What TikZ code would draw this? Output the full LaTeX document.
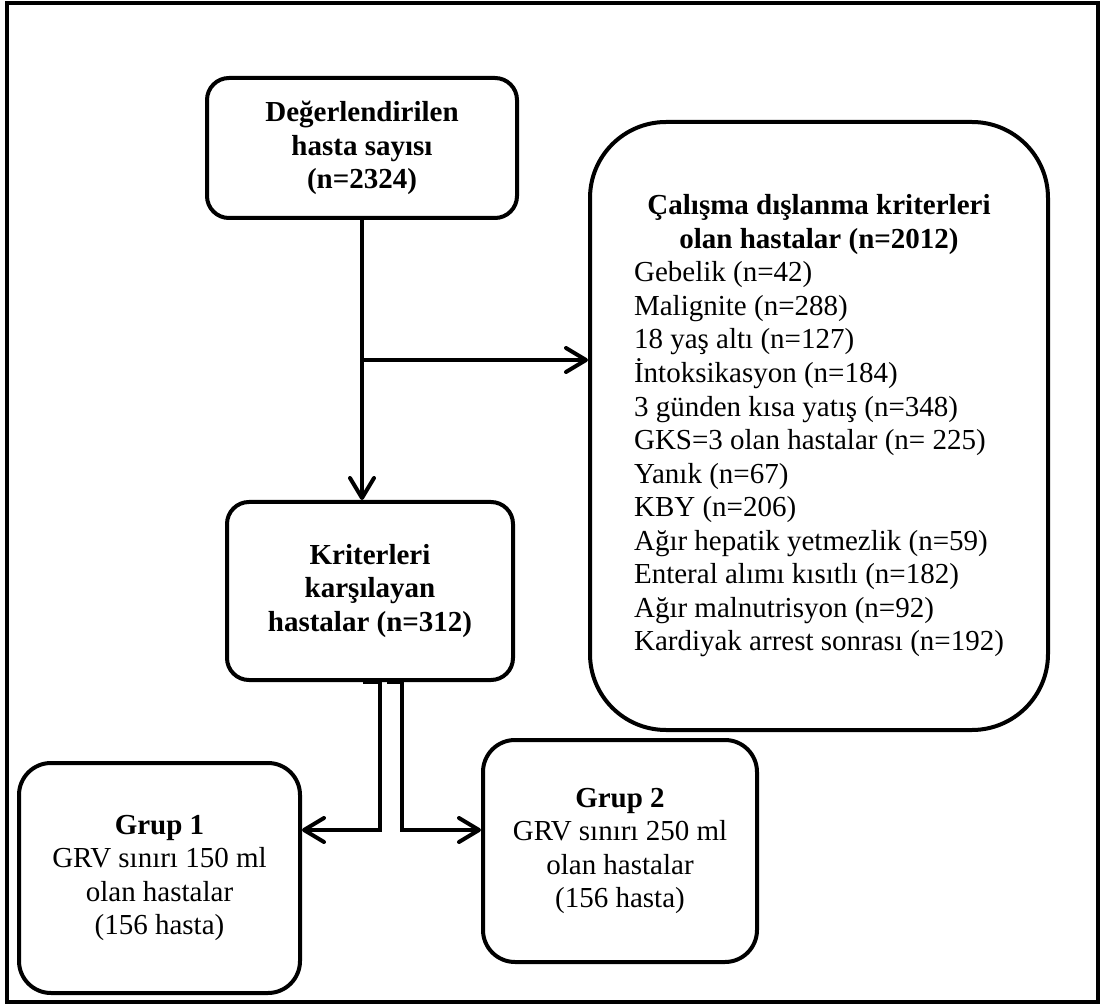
\documentclass[tikz,border=0pt]{standalone}
\usepackage{fontspec}
\setmainfont{Liberation Serif}
\usepackage{tikz}
\usetikzlibrary{arrows.meta,positioning}
\tikzset{
  box/.style={draw=black,line width=2pt,rounded corners=11pt,fill=white,align=center,
              inner sep=0pt,font=\fontsize{14.5}{16.75}\selectfont},
  bigbox/.style={box,rounded corners=38pt},
  groupbox/.style={box,rounded corners=16pt},
  flow/.style={-{Straight Barb[length=10pt,width=12pt,round]},line width=2pt,draw=black},
  frame/.style={draw=black,line width=2.2pt}
}

\begin{document}
\begin{tikzpicture}[x=0.5pt,y=-0.5pt]
  \useasboundingbox (0,0) rectangle (1109,1005);
  \draw[frame] (7,3) rectangle (1098,1002);

  \node[box,minimum width=155pt,minimum height=70pt] (assessed) at (362,148)
    {\textbf{Değerlendirilen}\\\textbf{hasta sayısı}\\\textbf{(n=2324)}};
  \node[box,minimum width=143pt,minimum height=89pt,below=140pt of assessed,xshift=4pt] (eligible)
    {\textbf{Kriterleri}\\\textbf{karşılayan}\\\textbf{hastalar (n=312)}};
  \node[bigbox,minimum width=229pt,minimum height=304pt] (excluded) at (819,426)
    {\begin{tabular}{@{}l@{}}
      \multicolumn{1}{@{}c@{}}{\textbf{Çalışma dışlanma kriterleri}}\\
      \multicolumn{1}{@{}c@{}}{\textbf{olan hastalar (n=2012)}}\\
      Gebelik (n=42)\\
      Malignite (n=288)\\
      18 yaş altı (n=127)\\
      İntoksikasyon (n=184)\\
      3 günden kısa yatış (n=348)\\
      GKS=3 olan hastalar (n= 225)\\
      Yanık (n=67)\\
      KBY (n=206)\\
      Ağır hepatik yetmezlik (n=59)\\
      Enteral alımı kısıtlı (n=182)\\
      Ağır malnutrisyon (n=92)\\
      Kardiyak arrest sonrası (n=192)
    \end{tabular}};
  \node[groupbox,minimum width=140.5pt,minimum height=115pt] (grupone) at (159.5,878)
    {\textbf{Grup 1}\\GRV sınırı 150 ml\\olan hastalar\\(156 hasta)};
  \node[groupbox,minimum width=137pt,minimum height=111pt] (gruptwo) at (620,851)
    {\textbf{Grup 2}\\GRV sınırı 250 ml\\olan hastalar\\(156 hasta)};

  \coordinate (split) at (363,360);
  \coordinate (forkone) at (380,830);
  \coordinate (forktwo) at (402,830);

  \draw[flow] (assessed.south) -- (assessed.south |- eligible.north);
  \draw[flow] (split) -- (split -| excluded.west);
  \draw[flow] ([xshift=-3.5pt]eligible.south) -| (forkone) -- (forkone -| grupone.east);
  \draw[flow] ([xshift=8.5pt]eligible.south) -| (forktwo) -- (forktwo -| gruptwo.west);
\end{tikzpicture}
\end{document}
